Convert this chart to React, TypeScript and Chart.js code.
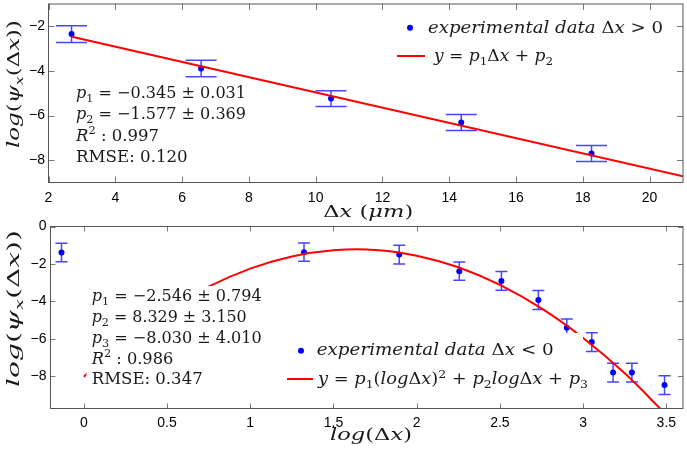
import React, { useEffect, useRef } from 'react';
import { Chart, registerables } from 'chart.js';
Chart.register(...registerables);

// ---------- top panel data (Δx > 0) ----------
const topX = [2.69, 6.57, 10.46, 14.36, 18.26];
const topY = [-2.35, -3.89, -5.24, -6.31, -7.7];
const topErr = [0.37, 0.37, 0.35, 0.36, 0.36];
const topFitX = [2.7, 21];
const topFitY = [-2.47, -8.72];
const topXTicks = [2, 4, 6, 8, 10, 12, 14, 16, 18, 20];
const topYTicks = [-8, -6, -4, -2];

// ---------- bottom panel data (Δx < 0) ----------
const botX = [-0.134, 1.323, 1.895, 2.256, 2.509, 2.731, 2.902, 3.052, 3.18, 3.293, 3.489];
const botY = [-1.39, -1.37, -1.5, -2.39, -2.91, -3.93, -5.41, -6.18, -7.81, -7.81, -8.48];
const botErr = [0.5, 0.49, 0.5, 0.49, 0.5, 0.51, 0.47, 0.5, 0.5, 0.5, 0.5];
const botFitX = [0, 0.25, 0.5, 0.75, 1.0, 1.25, 1.5, 1.75, 2.0, 2.25, 2.5, 2.75, 3.0, 3.25, 3.5];
const botFitY = [-8.03, -6.11, -4.5, -3.22, -2.25, -1.6, -1.27, -1.25, -1.56, -2.18, -3.12, -4.38, -5.96, -7.85, -10.07];
const botXTicks = [0, 0.5, 1, 1.5, 2, 2.5, 3, 3.5];
const botYTicks = [-8, -6, -4, -2, 0];

// ---------- texts ----------
type Seg = [string, string?];
const topLegend1: Seg[] = [['experimental', 'i'], [' '], ['data', 'i'], [' '], ['Δ'], ['x', 'i'], [' > 0']];
const topLegend2: Seg[] = [['y', 'i'], [' = '], ['p', 'i'], ['1', 'b'], ['Δ'], ['x', 'i'], [' + '], ['p', 'i'], ['2', 'b']];
const botLegend1: Seg[] = [['experimental', 'i'], [' '], ['data', 'i'], [' '], ['Δ'], ['x', 'i'], [' < 0']];
const botLegend2: Seg[] = [['y', 'i'], [' = '], ['p', 'i'], ['1', 'b'], ['('], ['log', 'i'], ['Δ'], ['x', 'i'], [')'], ['2', 'p'], [' + '], ['p', 'i'], ['2', 'b'], ['log', 'i'], ['Δ'], ['x', 'i'], [' + '], ['p', 'i'], ['3', 'b']];
const topStats: Seg[][] = [
  [['p', 'i'], ['1', 'b'], [' = −0.345 ± 0.031']],
  [['p', 'i'], ['2', 'b'], [' = −1.577 ± 0.369']],
  [['R', 'i'], ['2', 'p'], [' : 0.997']],
  [['RMSE: 0.120']],
];
const botStats: Seg[][] = [
  [['p', 'i'], ['1', 'b'], [' = −2.546 ± 0.794']],
  [['p', 'i'], ['2', 'b'], [' = 8.329 ± 3.150']],
  [['p', 'i'], ['3', 'b'], [' = −8.030 ± 4.010']],
  [['R', 'i'], ['2', 'p'], [' : 0.986']],
  [['RMSE: 0.347']],
];
const topXTitle: Seg[] = [['Δ'], ['x', 'i'], [' ('], ['μm', 'i'], [')']];
const botXTitle: Seg[] = [['log', 'i'], ['('], ['Δ'], ['x', 'i'], [')']];
const yTitle: Seg[] = [['log', 'i'], ['('], ['ψ', 'i'], ['x', 'ib'], ['('], ['Δ'], ['x', 'i'], ['))']];

const SERIF = '"DejaVu Serif", serif';
const SANS = '"Liberation Sans", Arial, sans-serif';
const TXT = '#1a1a1a';
const RED = '#ff0000';
const DOT = '#0000ff';
const ERR = '#4646ff';

function segFont(f: string, size: number) {
  const small = f.includes('b') || f.includes('p');
  return `${f.includes('i') ? 'italic ' : ''}${small ? size * 0.7 : size}px ${SERIF}`;
}

function drawRich(ctx: CanvasRenderingContext2D, segs: Seg[], x: number, y: number, size: number, targetW?: number, rot?: number) {
  ctx.save();
  let nat = 0;
  for (const [t, f = ''] of segs) { ctx.font = segFont(f, size); nat += ctx.measureText(t).width; }
  ctx.translate(x, y);
  if (rot) ctx.rotate(rot);
  if (targetW) ctx.scale(targetW / nat, 1);
  ctx.fillStyle = TXT;
  ctx.textAlign = 'left';
  ctx.textBaseline = 'alphabetic';
  let cx = 0;
  for (const [t, f = ''] of segs) {
    ctx.font = segFont(f, size);
    const dy = f.includes('b') ? size * 0.24 : f.includes('p') ? -size * 0.4 : 0;
    ctx.fillText(t, cx, dy);
    cx += ctx.measureText(t).width;
  }
  ctx.restore();
}

const fmtTick = (v: any) => (Number(v) < 0 ? '−' + String(Math.abs(Number(v))) : String(v));

type Layout = {
  xs: number[]; ys: number[]; errs: number[]; cap: number; tickLen: number;
  boxes: number[][];
  stats: Seg[][]; statX: number; statY: number[]; statW: number[];
  leg1: Seg[]; leg2: Seg[]; dot: number[]; leg1Pos: number[]; line: number[]; leg2Pos: number[];
  xTitle: Seg[]; xTitlePos: number[]; yTitlePos: number[];
};

function makePlugin(L: Layout) {
  return {
    id: 'matlabish',
    beforeDatasetsDraw(chart: any) {
      const ctx = chart.ctx; const xs = chart.scales.x; const ys = chart.scales.y;
      ctx.save();
      ctx.strokeStyle = ERR; ctx.lineWidth = 1.5;
      L.xs.forEach((xv, i) => {
        const px = xs.getPixelForValue(xv);
        const p1 = ys.getPixelForValue(L.ys[i] + L.errs[i]);
        const p2 = ys.getPixelForValue(L.ys[i] - L.errs[i]);
        ctx.beginPath();
        ctx.moveTo(px, p1); ctx.lineTo(px, p2);
        ctx.moveTo(px - L.cap, p1); ctx.lineTo(px + L.cap, p1);
        ctx.moveTo(px - L.cap, p2); ctx.lineTo(px + L.cap, p2);
        ctx.stroke();
      });
      ctx.restore();
    },
    afterDatasetsDraw(chart: any) {
      const ctx = chart.ctx;
      ctx.save();
      ctx.fillStyle = '#ffffff';
      for (const b of L.boxes) ctx.fillRect(b[0], b[1], b[2] - b[0], b[3] - b[1]);
      ctx.restore();
      L.stats.forEach((s, i) => drawRich(ctx, s, L.statX, L.statY[i], 16, L.statW[i]));
      ctx.save();
      ctx.fillStyle = DOT;
      ctx.beginPath(); ctx.arc(L.dot[0], L.dot[1], 3, 0, Math.PI * 2); ctx.fill();
      ctx.strokeStyle = RED; ctx.lineWidth = 2;
      ctx.beginPath(); ctx.moveTo(L.line[0], L.line[2]); ctx.lineTo(L.line[1], L.line[2]); ctx.stroke();
      ctx.restore();
      drawRich(ctx, L.leg1, L.leg1Pos[0], L.leg1Pos[1], 16, L.leg1Pos[2]);
      drawRich(ctx, L.leg2, L.leg2Pos[0], L.leg2Pos[1], 16, L.leg2Pos[2]);
    },
    afterDraw(chart: any) {
      const ctx = chart.ctx; const a = chart.chartArea;
      const xs = chart.scales.x; const ys = chart.scales.y;
      ctx.save();
      ctx.lineWidth = 1;
      ctx.strokeStyle = '#7a7a7a';
      ctx.beginPath();
      for (const t of xs.ticks) {
        const p = Math.round(xs.getPixelForValue(t.value)) + 0.5;
        ctx.moveTo(p, a.bottom); ctx.lineTo(p, a.bottom - L.tickLen);
        ctx.moveTo(p, a.top); ctx.lineTo(p, a.top + L.tickLen);
      }
      for (const t of ys.ticks) {
        const p = Math.round(ys.getPixelForValue(t.value)) + 0.5;
        ctx.moveTo(a.left, p); ctx.lineTo(a.left + L.tickLen, p);
        ctx.moveTo(a.right, p); ctx.lineTo(a.right - L.tickLen, p);
      }
      ctx.stroke();
      ctx.strokeStyle = '#555555';
      ctx.strokeRect(a.left, a.top, a.right - a.left, a.bottom - a.top);
      ctx.restore();
      drawRich(ctx, L.xTitle, L.xTitlePos[0], L.xTitlePos[1], 17, L.xTitlePos[2]);
      drawRich(ctx, yTitle, L.yTitlePos[0], L.yTitlePos[1], 17, L.yTitlePos[2], -Math.PI / 2);
    },
  };
}

function makeChart(canvas: HTMLCanvasElement, o: {
  xs: number[]; ys: number[]; fx: number[]; fy: number[]; xmin: number; xmax: number; ymin: number; ymax: number;
  xt: number[]; yt: number[]; yw: number; xh: number; pad: any; xpad: number; ypad: number; tension: number; L: Layout;
}) {
  return new Chart(canvas, {
    type: 'scatter',
    data: {
      datasets: [
        {
          type: 'scatter', showLine: true, data: o.fx.map((x, i) => ({ x, y: o.fy[i] })),
          borderColor: RED, borderWidth: 2, pointRadius: 0, tension: o.tension, order: 1,
        } as any,
        {
          type: 'scatter', data: o.xs.map((x, i) => ({ x, y: o.ys[i] })),
          pointRadius: 3, backgroundColor: DOT, borderWidth: 0, order: 2,
        },
      ],
    },
    options: {
      responsive: false, maintainAspectRatio: false, animation: false,
      layout: { padding: o.pad },
      plugins: { legend: { display: false }, tooltip: { enabled: false } },
      scales: {
        x: {
          type: 'linear', min: o.xmin, max: o.xmax,
          afterBuildTicks: (s: any) => { s.ticks = o.xt.map((v) => ({ value: v })); },
          afterFit: (s: any) => { s.height = o.xh; s.paddingLeft = 0; s.paddingRight = 0; },
          grid: { display: false, drawTicks: false }, border: { display: false },
          ticks: { font: { family: SANS, size: 14 }, color: '#000', padding: o.xpad, maxRotation: 0, autoSkip: false, callback: fmtTick },
        },
        y: {
          type: 'linear', min: o.ymin, max: o.ymax,
          afterBuildTicks: (s: any) => { s.ticks = o.yt.map((v) => ({ value: v })); },
          afterFit: (s: any) => { s.width = o.yw; s.paddingTop = 0; s.paddingBottom = 0; },
          grid: { display: false, drawTicks: false }, border: { display: false },
          ticks: { font: { family: SANS, size: 14 }, color: '#000', padding: o.ypad, autoSkip: false, callback: fmtTick },
        },
      },
    },
    plugins: [makePlugin(o.L)],
  } as any);
}

export default function App() {
  const topRef = useRef<HTMLCanvasElement>(null);
  const botRef = useRef<HTMLCanvasElement>(null);
  useEffect(() => {
    const top = makeChart(topRef.current!, {
      xs: topX, ys: topY, fx: topFitX, fy: topFitY, xmin: 2, xmax: 21, ymin: -9, ymax: -1,
      xt: topXTicks, yt: topYTicks, yw: 48.5, xh: 39.5, pad: { left: 0, right: 2.5, top: 0.5, bottom: 0 },
      xpad: 7.5, ypad: 3.5, tension: 0,
      L: {
        xs: topX, ys: topY, errs: topErr, cap: 15.5, tickLen: 6, boxes: [],
        stats: topStats, statX: 76, statY: [98, 119.3, 140.5, 161.7], statW: [170, 170, 83, 111.7],
        leg1: topLegend1, leg2: topLegend2, dot: [410, 27.7], leg1Pos: [428, 33, 235], line: [397, 425, 56], leg2Pos: [434, 61, 119],
        xTitle: topXTitle, xTitlePos: [323.3, 217, 90], yTitlePos: [18.5, 148, 128],
      },
    });
    // bottom canvas starts at page y = 200
    const bot = makeChart(botRef.current!, {
      xs: botX, ys: botY, fx: botFitX, fy: botFitY, xmin: -0.2, xmax: 3.6, ymin: -9.73, ymax: 0,
      xt: botXTicks, yt: botYTicks, yw: 50.5, xh: 42.5, pad: { left: 0, right: 1.5, top: 26.5, bottom: 0 },
      xpad: 6, ypad: 4, tension: 0.4,
      L: {
        xs: botX, ys: botY, errs: botErr, cap: 6, tickLen: 5,
        boxes: [[86.5, 86, 266, 193], [280, 133, 583, 197]],
        stats: botStats, statX: 91.7, statY: [101, 122, 143, 163.5, 184.3], statW: [170, 155, 170, 81.6, 111],
        leg1: botLegend1, leg2: botLegend2, dot: [301, 150.7], leg1Pos: [316.7, 155.3, 237], line: [287, 313, 179], leg2Pos: [318, 184, 270],
        xTitle: botXTitle, xTitlePos: [330, 240, 82], yTitlePos: [18.5, 187, 157],
      },
    });
    return () => { top.destroy(); bot.destroy(); };
  }, []);
  return (
    <div style={{ position: 'absolute', left: 0, top: 0, width: 687, height: 451, background: '#fff' }}>
      <canvas ref={topRef} width={687} height={222} style={{ position: 'absolute', left: 0, top: 0, width: 687, height: 222 }} />
      <canvas ref={botRef} width={687} height={251} style={{ position: 'absolute', left: 0, top: 200, width: 687, height: 251 }} />
    </div>
  );
}
